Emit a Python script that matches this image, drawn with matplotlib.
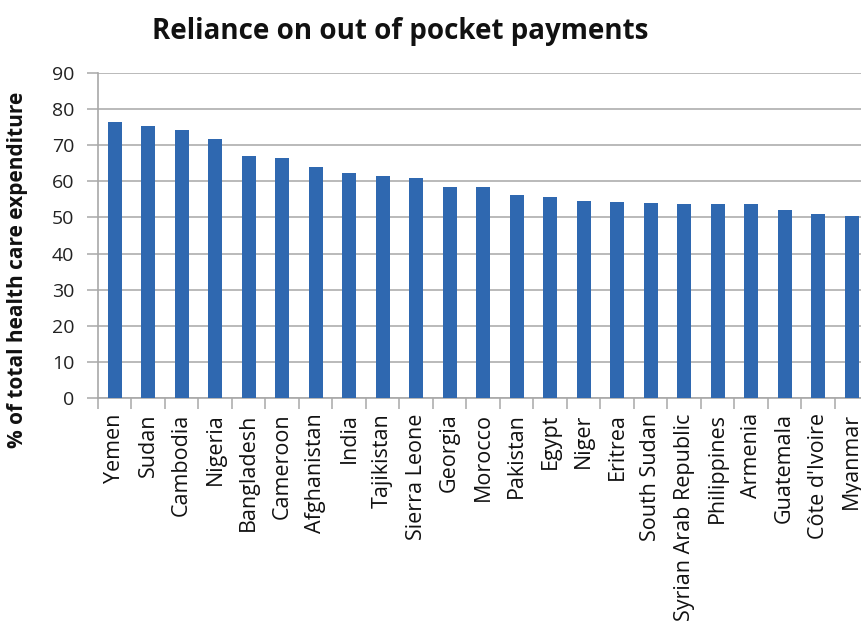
import matplotlib
matplotlib.use("Agg")
import matplotlib.pyplot as plt
import numpy as np

countries = ["Yemen", "Sudan", "Cambodia", "Nigeria", "Bangladesh", "Cameroon",
             "Afghanistan", "India", "Tajikistan", "Sierra Leone", "Georgia",
             "Morocco", "Pakistan", "Egypt", "Niger", "Eritrea", "South Sudan",
             "Syrian Arab Republic", "Philippines", "Armenia", "Guatemala",
             "Côte d'Ivoire", "Myanmar"]
values = [76.4, 75.3, 74.3, 71.6, 67.0, 66.4, 64.0, 62.2, 61.6, 60.8, 58.4,
          58.4, 56.3, 55.7, 54.6, 54.2, 53.9, 53.6, 53.6, 53.6, 52.2, 50.9, 50.5]
yticks = [0, 10, 20, 30, 40, 50, 60, 70, 80, 90]

plt.rcParams['font.family'] = ['Open Sans', 'DejaVu Sans']

fig = plt.figure(figsize=(8.62, 6.33), dpi=100)
ax = fig.add_axes([98/862, 235/633, 770.5/862, 325/633])

x = np.arange(len(countries))
ax.bar(x, values, width=0.42, color='#2f68b0', zorder=3)

ax.set_xlim(-0.5, len(countries) - 0.5)
ax.set_ylim(0, 90)
ax.set_yticks(yticks)
ax.set_yticklabels([str(v) for v in yticks], fontsize=14, color='#222222')
ax.yaxis.grid(True, color='#b4b4b4', linewidth=1.3, zorder=0)
ax.set_axisbelow(True)

ax.set_xticks(x)
ax.set_xticklabels(countries, rotation=90, fontsize=15.5, color='#111111')
ax.tick_params(axis='x', which='major', length=0, pad=11)
ax.set_xticks(np.arange(-0.5, len(countries), 1.0), minor=True)
ax.tick_params(axis='x', which='minor', length=8, width=1.1, color='#a8a8a8')
ax.tick_params(axis='y', length=8, width=1.1, color='#a8a8a8', pad=9)

for s in ['top', 'right']:
    ax.spines[s].set_visible(False)
for s in ['left', 'bottom']:
    ax.spines[s].set_color('#a8a8a8')
    ax.spines[s].set_linewidth(1.2)

fig.text(18/862, 1 - 270/633, "% of total health care expenditure", rotation=90,
         ha='center', va='center', fontsize=15, fontweight='bold', color='#111111')
fig.text(400/862, 1 - 31/633, "Reliance on out of pocket payments",
         ha='center', va='center', fontsize=20, fontweight='bold', color='#111111')

fig.savefig("out.png", dpi=100)
